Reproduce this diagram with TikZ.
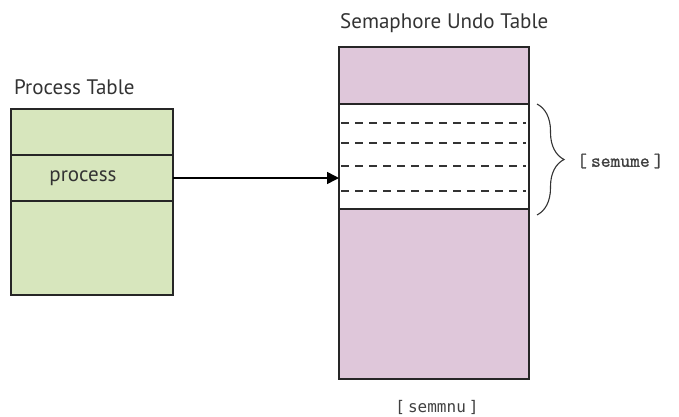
\documentclass[tikz,border=0pt]{standalone}
\usepackage{fontspec}
\setmainfont{PT Sans}
\newfontfamily\sansmono{DejaVu Sans Mono}
\newfontfamily\slabmono[FakeBold=1.2]{Latin Modern Mono}
\usetikzlibrary{decorations.pathreplacing,arrows.meta}
\definecolor{pgreen}{HTML}{D7E6BD}
\definecolor{ppink}{HTML}{DFC7DA}
\tikzset{
  cell/.style={draw=black!85, line width=1.5pt, inner sep=0pt, outer sep=0pt, minimum width=#1},
  title/.style={font=\fontsize{21}{25}\selectfont, text=black!80, anchor=west, inner sep=0pt},
  dline/.style={dash pattern=on 8pt off 6pt, line width=1.1pt, draw=black!80},
}
\begin{document}
\begin{tikzpicture}[x=1pt,y=-1pt]
\useasboundingbox (0,0) rectangle (679,416);
% process table
\node[cell=162pt, minimum height=46pt, fill=pgreen] (p1) at (92,132) {};
\node[cell=162pt, minimum height=46pt, fill=pgreen] (p2) at (92,178) {};
\node[cell=162pt, minimum height=94pt, fill=pgreen] (p3) at (92,248) {};
\node[font=\fontsize{21}{25}\selectfont, text=black!80] (ptxt) at (83,178) {process};
\node[title] (ptitle) at (14,87) {Process Table};
% semaphore undo table
\node[cell=190pt, minimum height=57pt, fill=ppink] (s1) at (434,75.5) {};
\node[cell=190pt, minimum height=105pt, fill=white] (s2) at (434,156.5) {};
\node[cell=190pt, minimum height=170pt, fill=ppink] (s3) at (434,294) {};
\node[title] (stitle) at (340,23) {Semaphore Undo Table};
% dashed rows
\foreach \yy/\nm in {123/a,143/b,166/c,191/d}{
  \coordinate (dl\nm) at (341,\yy);
  \coordinate (dr\nm) at (526,\yy);
  \draw[dline] (dl\nm) -- (dr\nm);
}
% arrow
\draw[line width=1.5pt, -{Triangle[length=12pt,width=12pt]}] (p2.east) -- (s2.west |- p2.east);
% brace
\coordinate (bt) at (537,104);
\coordinate (bb) at (537,215);
\draw[line width=1.1pt, black!80, decorate, decoration={brace, amplitude=27pt, aspect=0.5}] (bt) -- (bb);
\node[font=\slabmono\fontsize{19}{22}\selectfont, text=black!75, anchor=west, inner sep=0pt] (semume) at (577,161) {[\hspace{4pt}semume\hspace{4pt}]};
\node[font=\sansmono\fontsize{16}{19}\selectfont, text=black!75] (semmnu) at (437,407) {[\hspace{3pt}semmnu\hspace{3pt}]};
\end{tikzpicture}
\end{document}
